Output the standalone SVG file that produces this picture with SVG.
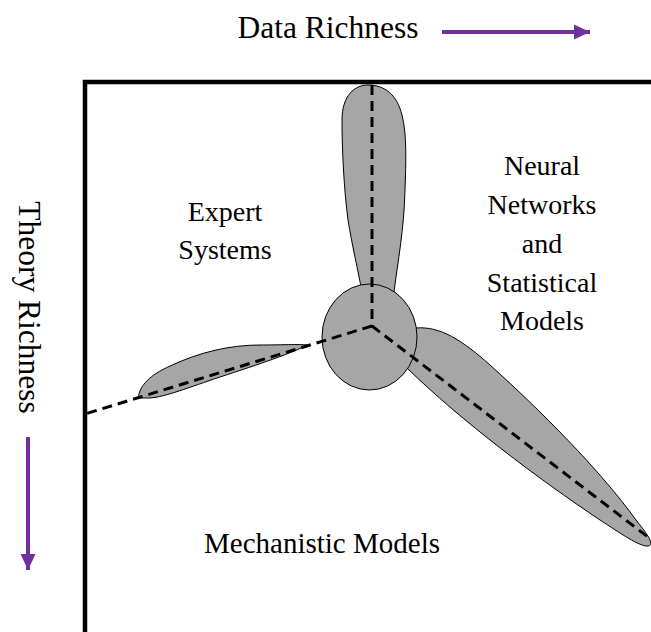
<svg xmlns="http://www.w3.org/2000/svg" width="651" height="632" viewBox="0 0 651 632">
<defs>
<style>
.lbl{font-family:"Liberation Serif","Times New Roman",serif;font-size:28px;fill:#000;text-anchor:middle}
.axis{font-family:"Liberation Serif","Times New Roman",serif;font-size:31.5px;fill:#000;text-anchor:middle}
.blade{fill:#A6A6A6;stroke:#000;stroke-width:1}
.dash{fill:none;stroke:#000;stroke-width:3;stroke-dasharray:10 6}
.parrow{stroke:#7030A0;stroke-width:4;fill:none}
</style>
<marker id="ah" markerUnits="userSpaceOnUse" markerWidth="16" markerHeight="16" refX="16" refY="8" orient="auto">
<path d="M0,0.5 L16,8 L0,15.5 Z" fill="#7030A0"/>
</marker>
</defs>
<rect width="651" height="632" fill="#fff"/>
<g id="axis-data">
<text class="axis" x="328" y="38">Data Richness</text>
<line class="parrow" x1="442" y1="32" x2="590" y2="32" marker-end="url(#ah)"/>
</g>
<g id="axis-theory">
<text class="axis" transform="translate(19,307.5) rotate(90)" x="0" y="0">Theory Richness</text>
<line class="parrow" x1="28" y1="437" x2="28" y2="570" marker-end="url(#ah)"/>
</g>
<g id="frame">
<polyline points="85,632 85,82 651,82" fill="none" stroke="#000" stroke-width="4.5"/>
</g>
<g id="blade-top">
<path class="blade" d="M362,292 C358,270 352,245 348,220 C344,190 342,150 342,120 C342,95 355,85 368,85 C385,85 397,95 402,115 C407,135 406,160 405,190 C404,230 398,260 394,292 Z"/>
</g>
<g id="blade-left">
<path class="blade" d="M138,398 C140,385 150,375 170,366 C200,352 230,345 260,345 C280,345 300,344 307,345 C295,352 260,364 220,377 C190,387 165,397 150,398 C145,398 140,398 138,398 Z"/>
</g>
<g id="blade-right">
<path class="blade" d="M416,328 C440,326 462,340 490,365 C540,410 600,470 636,520 C648,535 655,545 648,546 C640,547 620,533 600,520 C540,480 460,420 407,368 Z"/>
</g>
<g id="hub">
<ellipse class="blade" cx="369.5" cy="337" rx="47.5" ry="53"/>
</g>
<g id="connectors">
<line class="dash" x1="372" y1="85" x2="372" y2="326"/>
<line class="dash" x1="372" y1="326" x2="85" y2="414"/>
<line class="dash" x1="372" y1="326" x2="648" y2="537"/>
</g>
<g id="label-expert">
<text class="lbl" x="225" y="221">Expert</text>
<text class="lbl" x="225" y="259">Systems</text>
</g>
<g id="label-neural">
<text class="lbl" x="542" y="175">Neural</text>
<text class="lbl" x="542" y="214">Networks</text>
<text class="lbl" x="542" y="253">and</text>
<text class="lbl" x="542" y="292">Statistical</text>
<text class="lbl" x="542" y="330">Models</text>
</g>
<g id="label-mechanistic">
<text class="lbl" x="322" y="553" style="font-size:29px">Mechanistic Models</text>
</g>
</svg>
